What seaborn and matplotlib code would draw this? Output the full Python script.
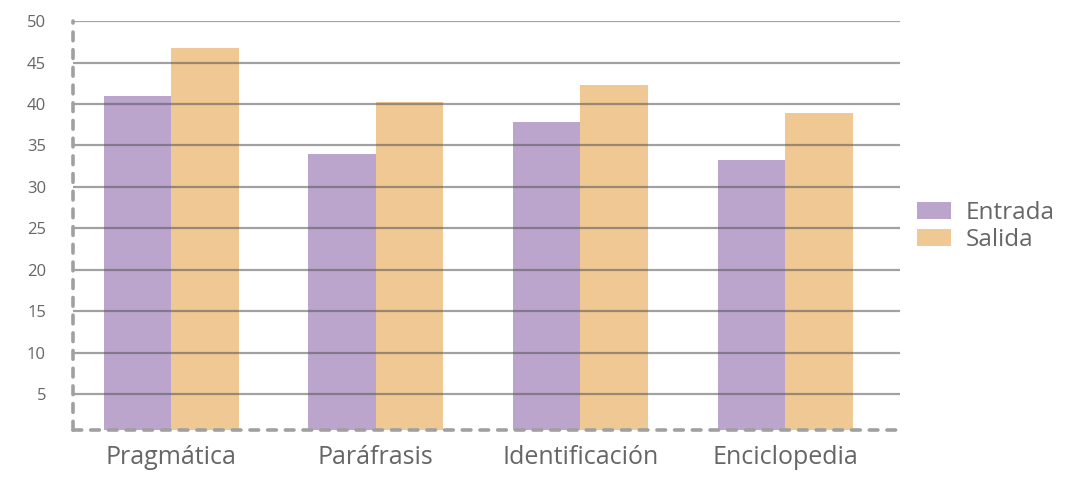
import matplotlib
matplotlib.use('Agg')
import matplotlib.pyplot as plt
import seaborn as sns
import pandas as pd

categorias = ["Pragmática", "Paráfrasis", "Identificación", "Enciclopedia"]
entrada = [41.0, 34.0, 37.8, 33.3]
salida = [46.8, 40.2, 42.3, 38.9]
y_ticks = [5, 10, 15, 20, 25, 30, 35, 40, 45, 50]

df = pd.DataFrame({
    "categoria": categorias * 2,
    "valor": entrada + salida,
    "serie": ["Entrada"] * 4 + ["Salida"] * 4,
})

sns.set_style("white")
plt.rcParams['font.family'] = ['Open Sans', 'DejaVu Sans']

fig = plt.figure(figsize=(10.84, 4.78), dpi=100)
ax = fig.add_axes([0.0673, 0.1004, 0.7627, 0.8556])

sns.barplot(data=df, x="categoria", y="valor", hue="serie",
            palette=["#BBA5CC", "#EFC893"], width=0.66, gap=0,
            saturation=1, linewidth=0, ax=ax, zorder=1)

ax.set_xlim(-0.48, 3.56)
ax.set_ylim(0.7, 50)
ax.set_yticks(y_ticks)
ax.set_yticklabels([str(v) for v in y_ticks])
ax.set_xlabel("")
ax.set_ylabel("")

# grid drawn above the bars, semi transparent
for v in y_ticks:
    ax.axhline(v, color="#555555", alpha=0.55, lw=1.6, zorder=3)

ax.tick_params(axis="y", length=9.4, width=1.6, color="#555555", pad=10,
               labelsize=12, labelcolor="#666666")
ax.tick_params(axis="x", length=0, pad=11, labelsize=18, labelcolor="#666666")
for t in ax.get_yticklines():
    t.set_alpha(0.55)

for s in ["top", "right"]:
    ax.spines[s].set_visible(False)
for s in ["left", "bottom"]:
    sp = ax.spines[s]
    sp.set_color("#a0a0a0")
    sp.set_linewidth(2.6)
    sp.set_linestyle((0, (2.4, 2.5)))
    sp.set_capstyle("round")
    sp.set_zorder(4)

leg = ax.legend(loc="center left", bbox_to_anchor=(0.995, 0.498), frameon=False,
                fontsize=17.5, handlelength=1.4, handleheight=0.7,
                handletextpad=0.6, labelspacing=0.15)
for txt in leg.get_texts():
    txt.set_color("#666666")

fig.savefig("out.png", dpi=100)
